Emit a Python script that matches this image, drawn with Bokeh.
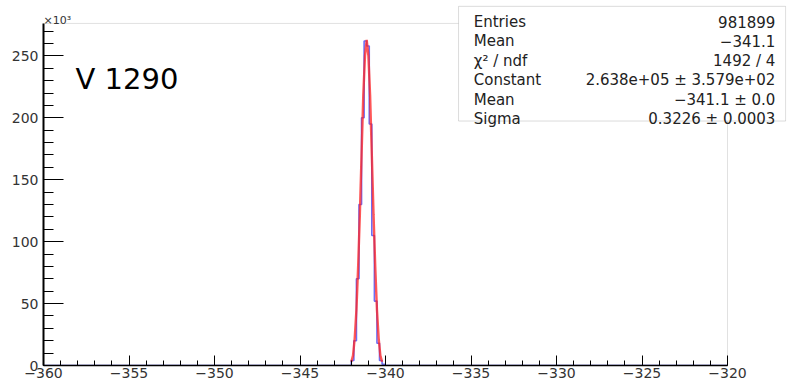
from bokeh.plotting import figure
from bokeh.models import FixedTicker, CustomJSTickFormatter, Label, BoxAnnotation, Range1d
from bokeh.embed import file_html
from bokeh.resources import INLINE

# ---- data ----
bin_edges = [-342.0, -341.85, -341.7, -341.55, -341.4, -341.25, -341.1,
             -340.95, -340.8, -340.65, -340.5, -340.35, -340.2, -340.05]
bin_counts = [4000, 20000, 70000, 130000, 200000, 262000, 258000,
              195000, 105000, 52000, 18000, 4000, 1000]

fit_x = [-342.0, -341.9, -341.8, -341.7, -341.6, -341.5, -341.4, -341.3, -341.2,
         -341.1, -341.0, -340.9, -340.8, -340.7, -340.6, -340.5, -340.4, -340.3, -340.2]
fit_y = [3000, 8000, 22000, 45000, 80000, 122000, 170000, 218000, 250000,
         263000, 250000, 218000, 170000, 122000, 80000, 45000, 22000, 8000, 3000]

x_ticks = [-360, -355, -350, -345, -340, -335, -330, -325, -320]
x_minor = list(range(-360, -319))
y_ticks = [0, 50000, 100000, 150000, 200000, 250000]
y_minor = list(range(0, 280000, 10000))

stat_names = ["Entries", "Mean", "\u03c7\u00b2 / ndf", "Constant", "Mean", "Sigma"]
stat_values = ["981899", "\u2212341.1", "1492 / 4", "2.638e+05 \u00b1 3.579e+02",
               "\u2212341.1 \u00b1 0.0", "0.3226 \u00b1 0.0003"]

FONT = "DejaVu Sans"
X_MIN, X_MAX = -360, -320
Y_MAX = 276200

p = figure(width=787, height=383, output_backend="svg", toolbar_location=None,
           x_range=Range1d(X_MIN, -316.55), y_range=Range1d(0, 291500),
           min_border_left=43, min_border_right=1, min_border_top=4, min_border_bottom=18)
p.grid.visible = False
p.background_fill_color = "white"
p.border_fill_color = "white"
p.outline_line_color = None

# ROOT-style frame (top / right edges visible)
p.add_layout(BoxAnnotation(left=X_MIN, right=X_MAX, bottom=0, top=Y_MAX,
                           fill_color=None, line_color="#9a9a9a", line_width=1,
                           level="underlay"))

# histogram (step line incl. empty range)
hx = [X_MIN] + bin_edges + [X_MAX]
hy = [0] + bin_counts + [0, 0]
p.step(hx, hy, mode="after", line_color="#3c3cf0", line_width=1.6, line_alpha=0.75)

# fit curve
p.line(fit_x, fit_y, line_color="#ff2020", line_width=2.4, line_alpha=0.75)

# axes
for ax in (p.xaxis[0], p.yaxis[0]):
    ax.axis_line_color = "black"
    ax.major_tick_line_color = "black"
    ax.minor_tick_line_color = "black"
    ax.major_tick_out = 0
    ax.minor_tick_out = 0
    ax.major_label_text_font = FONT
    ax.major_label_text_font_size = "14px"
    ax.major_label_text_color = "#333333"

p.xaxis.bounds = (X_MIN, X_MAX)
p.xaxis.ticker = FixedTicker(ticks=x_ticks, minor_ticks=x_minor)
p.xaxis.formatter = CustomJSTickFormatter(code="return tick < 0 ? '\\u2212' + Math.abs(tick) : String(tick);")
p.xaxis.major_tick_in = 10
p.xaxis.minor_tick_in = 5
p.xaxis.axis_line_width = 1.5
p.xaxis.major_label_standoff = 2

p.yaxis.bounds = (0, Y_MAX)
p.yaxis.ticker = FixedTicker(ticks=y_ticks, minor_ticks=y_minor)
p.yaxis.formatter = CustomJSTickFormatter(code="return String(Math.round(tick/1000));")
p.yaxis.major_tick_in = 20
p.yaxis.minor_tick_in = 10
p.yaxis.axis_line_width = 2
p.yaxis.major_label_standoff = 5

# exponent label
p.add_layout(Label(x=X_MIN, y=278600, text="\u00d710\u00b3", text_font=FONT,
                   text_font_size="11px", text_color="#333333",
                   text_baseline="alphabetic", text_align="left"))

# V 1290
p.add_layout(Label(x=-358.13, y=230950, text="V 1290", text_font=FONT,
                   text_font_size="29px", text_color="black",
                   text_baseline="alphabetic", text_align="left"))

# stats box
p.add_layout(BoxAnnotation(left=-335.73, right=-316.6, bottom=197400, top=290000,
                           fill_color="white", fill_alpha=1.0,
                           line_color="#8a8a8a", line_width=1))
baselines = [277500, 261900, 246000, 230200, 214700, 199200]
for name, val, yb in zip(stat_names, stat_values, baselines):
    p.add_layout(Label(x=-334.84, y=yb, text=name, text_font=FONT, text_font_size="15px",
                       text_color="#222222", text_baseline="alphabetic", text_align="left"))
    p.add_layout(Label(x=-317.2, y=yb, text=val, text_font=FONT, text_font_size="15px",
                       text_color="#222222", text_baseline="alphabetic", text_align="right"))

open("out.html", "w").write(file_html(p, INLINE))
